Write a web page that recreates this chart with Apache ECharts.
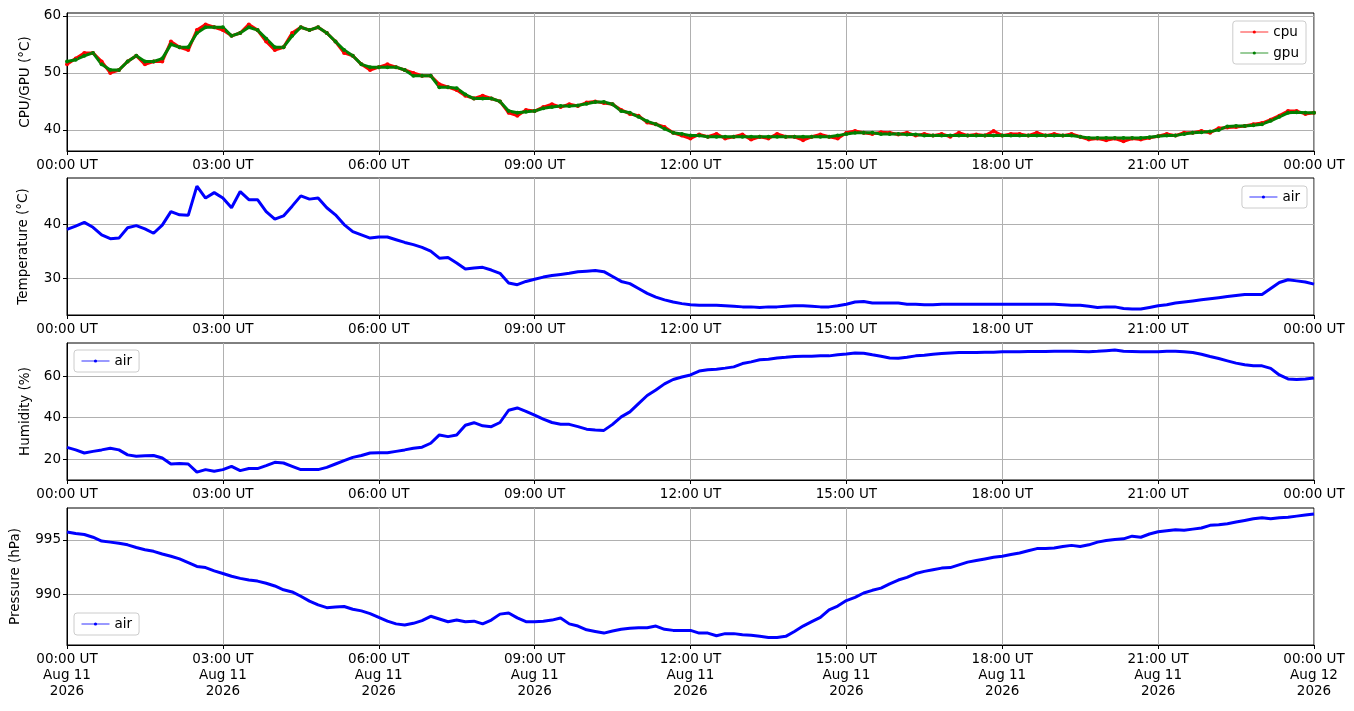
<!DOCTYPE html>
<html lang="en">
<head>
<meta charset="UTF-8">
<title>Sensor log</title>
<script src="https://cdn.jsdelivr.net/npm/echarts@6/dist/echarts.min.js"></script>
<style>
  * {margin: 0; padding: 0;}
  body {background: #fff;}
  #main {width: 1354px; height: 711px;}
</style>
</head>
<body>
<div id="main"></div>
<script>
// one reading every 10 minutes, 00:00 UT Aug 11 -> 00:00 UT Aug 12
const stepMinutes = 10;

const cpu = [51.5, 52.5, 53.5, 53.5, 52, 50, 50.5, 52, 53, 51.5,
  52, 52, 55.5, 54.5, 54, 57.5, 58.5, 58, 57.5, 56.5,
  57, 58.5, 57.5, 55.5, 54, 54.5, 57, 58, 57.5, 58,
  57, 55.5, 53.5, 53, 51.5, 50.5, 51, 51.5, 51, 50.5,
  50, 49.5, 49.5, 48, 47.5, 47, 46, 45.5, 46, 45.5,
  45, 43, 42.5, 43.5, 43.3, 44, 44.5, 44, 44.5, 44.2,
  44.8, 45, 44.7, 44.5, 43.5, 42.8, 42.5, 41.3, 41, 40.5,
  39.5, 39, 38.5, 39.2, 38.8, 39.3, 38.5, 38.8, 39.2, 38.3,
  38.8, 38.5, 39.3, 38.8, 38.8, 38.2, 38.8, 39.2, 38.8, 38.5,
  39.5, 39.8, 39.5, 39.3, 39.6, 39.5, 39.2, 39.5, 39, 39.3,
  39, 39.3, 38.8, 39.5, 39, 39.2, 39, 39.8, 39, 39.3,
  39.3, 39, 39.5, 39, 39.3, 39, 39.3, 38.8, 38.3, 38.5,
  38.2, 38.5, 38, 38.5, 38.3, 38.6, 38.9, 39.3, 39, 39.5,
  39.5, 39.8, 39.5, 40.3, 40.4, 40.5, 40.7, 41, 41.2, 41.8,
  42.5, 43.3, 43.3, 42.8, 43];

const gpu = [52, 52.3, 53, 53.5, 51.5, 50.5, 50.5, 52, 53, 52,
  52, 52.5, 55, 54.5, 54.5, 57, 58, 58, 58, 56.5,
  57, 58, 57.5, 56, 54.5, 54.5, 56.5, 58, 57.5, 58,
  57, 55.5, 54, 53, 51.5, 51, 51, 51, 51, 50.5,
  49.5, 49.5, 49.5, 47.5, 47.5, 47.3, 46.2, 45.5, 45.5, 45.5,
  45, 43.3, 43, 43.2, 43.3, 43.8, 44, 44.2, 44.2, 44.3,
  44.6, 44.9, 44.9, 44.5, 43.3, 43, 42.3, 41.5, 41, 40.2,
  39.5, 39.3, 39, 39, 38.8, 38.8, 38.8, 38.8, 38.8, 38.8,
  38.8, 38.8, 38.8, 38.8, 38.8, 38.8, 38.8, 38.8, 38.8, 39,
  39.3, 39.5, 39.5, 39.5, 39.3, 39.3, 39.3, 39.2, 39.2, 39,
  39, 39, 39, 39, 39, 39, 39, 39, 39, 39,
  39, 39, 39, 39, 39, 39, 39, 38.8, 38.6, 38.6,
  38.6, 38.6, 38.6, 38.6, 38.6, 38.7, 38.9, 39, 39, 39.3,
  39.5, 39.6, 39.7, 40, 40.6, 40.7, 40.7, 40.8, 41, 41.6,
  42.3, 43, 43.1, 43, 43];

const airTemp = [39, 39.6, 40.3, 39.4, 38, 37.3, 37.4, 39.3, 39.7, 39.1,
  38.3, 39.8, 42.3, 41.7, 41.6, 47, 44.8, 45.8, 44.8, 43,
  46, 44.5, 44.5, 42.3, 40.9, 41.5, 43.3, 45.2, 44.6, 44.8,
  43, 41.7, 39.9, 38.6, 38, 37.4, 37.6, 37.6, 37.1, 36.6,
  36.2, 35.7, 35, 33.7, 33.8, 32.8, 31.7, 31.9, 32, 31.5,
  30.9, 29.1, 28.8, 29.4, 29.8, 30.2, 30.5, 30.7, 30.9, 31.2,
  31.3, 31.4, 31.2, 30.3, 29.4, 29, 28.1, 27.2, 26.5, 26,
  25.6, 25.3, 25.1, 25, 25, 25, 24.9, 24.8, 24.7, 24.7,
  24.6, 24.7, 24.7, 24.8, 24.9, 24.9, 24.8, 24.7, 24.7, 24.9,
  25.2, 25.6, 25.7, 25.4, 25.4, 25.4, 25.4, 25.2, 25.2, 25.1,
  25.1, 25.2, 25.2, 25.2, 25.2, 25.2, 25.2, 25.2, 25.2, 25.2,
  25.2, 25.2, 25.2, 25.2, 25.2, 25.1, 25, 25, 24.8, 24.6,
  24.7, 24.7, 24.4, 24.3, 24.3, 24.6, 24.9, 25.1, 25.4, 25.6,
  25.8, 26, 26.2, 26.4, 26.6, 26.8, 27, 27, 27, 28.1,
  29.2, 29.7, 29.5, 29.3, 28.9];

const humidity = [25.6, 24.4, 22.9, 23.7, 24.4, 25.2, 24.4, 22, 21.3, 21.6,
  21.7, 20.5, 17.6, 17.8, 17.6, 13.7, 14.9, 14.1, 14.9, 16.5,
  14.4, 15.4, 15.4, 16.8, 18.4, 18.1, 16.5, 14.9, 14.9, 14.9,
  16, 17.6, 19.2, 20.8, 21.7, 22.9, 23, 23, 23.7, 24.4,
  25.2, 25.7, 27.6, 31.6, 30.8, 31.6, 36.3, 37.5, 36, 35.6,
  37.6, 43.5, 44.6, 43, 41.1, 39.2, 37.6, 36.8, 36.7, 35.6,
  34.4, 34, 33.8, 36.7, 40.3, 42.7, 46.7, 50.6, 53.3, 56.2,
  58.3, 59.5, 60.5, 62.4, 63, 63.3, 63.8, 64.4, 66, 66.8,
  67.8, 68.1, 68.7, 69, 69.4, 69.5, 69.5, 69.7, 69.7, 70.2,
  70.6, 71.1, 71, 70.2, 69.5, 68.7, 68.6, 69, 69.7, 70,
  70.5, 70.8, 71.1, 71.3, 71.3, 71.3, 71.4, 71.4, 71.7, 71.7,
  71.7, 71.8, 71.8, 71.8, 71.9, 71.9, 71.9, 71.8, 71.7, 71.9,
  72.2, 72.5, 71.9, 71.8, 71.7, 71.7, 71.7, 71.9, 71.9, 71.7,
  71.3, 70.5, 69.4, 68.4, 67.3, 66.2, 65.4, 64.9, 64.9, 63.7,
  60.5, 58.6, 58.3, 58.6, 59];

const pressure = [995.74, 995.6, 995.5, 995.25, 994.9, 994.8, 994.7, 994.55, 994.3, 994.1,
  993.95, 993.7, 993.5, 993.25, 992.9, 992.55, 992.45, 992.15, 991.9, 991.65,
  991.45, 991.3, 991.2, 991, 990.75, 990.4, 990.2, 989.8, 989.35, 989,
  988.75, 988.8, 988.85, 988.6, 988.45, 988.2, 987.85, 987.5, 987.25, 987.15,
  987.3, 987.55, 987.95, 987.7, 987.45, 987.6, 987.45, 987.5, 987.25, 987.6,
  988.15, 988.25, 987.8, 987.45, 987.45, 987.5, 987.6, 987.8, 987.25, 987.05,
  986.7, 986.55, 986.4, 986.6, 986.75, 986.85, 986.9, 986.9, 987.05, 986.75,
  986.65, 986.65, 986.65, 986.4, 986.4, 986.15, 986.35, 986.35, 986.25, 986.2,
  986.1, 986, 986, 986.1, 986.55, 987.05, 987.45, 987.85, 988.55, 988.9,
  989.4, 989.7, 990.1, 990.35, 990.55, 990.95, 991.3, 991.55, 991.9, 992.1,
  992.25, 992.4, 992.45, 992.7, 992.95, 993.1, 993.25, 993.4, 993.5, 993.65,
  993.8, 994, 994.2, 994.2, 994.25, 994.4, 994.5, 994.4, 994.55, 994.8,
  994.95, 995.05, 995.1, 995.35, 995.25, 995.55, 995.75, 995.85, 995.95, 995.9,
  996, 996.1, 996.35, 996.4, 996.5, 996.65, 996.8, 996.95, 997.05, 996.95,
  997.05, 997.1, 997.2, 997.3, 997.4];

const hourLabels = ['00:00 UT', '03:00 UT', '06:00 UT', '09:00 UT', '12:00 UT',
  '15:00 UT', '18:00 UT', '21:00 UT', '00:00 UT'];
const dateLabels = ['Aug 11', 'Aug 11', 'Aug 11', 'Aug 11', 'Aug 11',
  'Aug 11', 'Aug 11', 'Aug 11', 'Aug 12'];
const yearLabel = '2026';

const cpuTicks = [40, 50, 60];
const tempTicks = [30, 40];
const humTicks = [20, 40, 60];
const presTicks = [990, 995];

const font = 'DejaVu Sans';
const fs = 13.5;
const hours = gpu.map((_, i) => i * stepMinutes / 60);
const pairs = arr => arr.map((v, i) => [hours[i], v]);

const grids = [
  {top: 13, height: 138},
  {top: 178, height: 137},
  {top: 343, height: 137},
  {top: 508, height: 137}
].map(g => Object.assign({left: 67, width: 1247, show: true,
  borderColor: '#000', borderWidth: 1, backgroundColor: '#fff'}, g));

function xAxis(i, full) {
  return {
    type: 'value', gridIndex: i, min: 0, max: 24, interval: 3,
    axisLine: {show: true, lineStyle: {color: '#000', width: 1}},
    axisTick: {show: true, length: 4, lineStyle: {color: '#000'}},
    splitLine: {show: true, lineStyle: {color: '#b0b0b0', width: 1}},
    axisLabel: {
      color: '#000', fontFamily: font, fontSize: fs, margin: 6,
      lineHeight: 16, showMinLabel: true, showMaxLabel: true,
      formatter: v => {
        const k = Math.round(v / 3);
        return full ? hourLabels[k] + '\n' + dateLabels[k] + '\n' + yearLabel : hourLabels[k];
      }
    }
  };
}

function yAxis(i, name, min, max, ticks, gap) {
  return {
    type: 'value', gridIndex: i, min: min, max: max,
    minInterval: ticks[1] - ticks[0], maxInterval: ticks[1] - ticks[0],
    name: name, nameLocation: 'middle', nameGap: gap,
    nameTextStyle: {color: '#000', fontFamily: font, fontSize: fs},
    axisLine: {show: true, lineStyle: {color: '#000', width: 1}},
    axisTick: {show: true, length: 4, lineStyle: {color: '#000'}, customValues: ticks},
    splitLine: {show: true, lineStyle: {color: '#b0b0b0', width: 1}},
    axisLabel: {color: '#000', fontFamily: font, fontSize: fs, margin: 6,
      customValues: ticks}
  };
}

const legendBase = {
  backgroundColor: 'rgba(255,255,255,0.8)', borderColor: '#cccccc', borderWidth: 1,
  borderRadius: 3, padding: [4, 7], itemWidth: 28, itemHeight: 4, itemGap: 7,
  orient: 'vertical', selectedMode: false,
  textStyle: {color: '#000', fontFamily: font, fontSize: fs},
  lineStyle: {width: 1, opacity: 0.8}
};

function lineSeries(name, i, data, color, width, dots) {
  return {
    name: name, type: 'line', xAxisIndex: i, yAxisIndex: i, data: pairs(data),
    color: color, symbol: 'circle', symbolSize: 4, showSymbol: dots,
    lineStyle: {width: width, color: color}, itemStyle: {color: color},
    emphasis: {disabled: true}
  };
}

const chart = echarts.init(document.getElementById('main'));
chart.setOption({
  animation: false,
  backgroundColor: '#fff',
  grid: grids,
  xAxis: [xAxis(0, false), xAxis(1, false), xAxis(2, false), xAxis(3, true)],
  yAxis: [
    yAxis(0, 'CPU/GPU (°C)', 36.3, 60.5, cpuTicks, 35),
    yAxis(1, 'Temperature (°C)', 23.2, 48.5, tempTicks, 37),
    yAxis(2, 'Humidity (%)', 9.9, 75.9, humTicks, 35),
    yAxis(3, 'Pressure (hPa)', 985.3, 997.95, presTicks, 45)
  ],
  legend: [
    Object.assign({}, legendBase, {data: ['cpu', 'gpu'], right: 48, top: 21}),
    Object.assign({}, legendBase, {data: ['air'], right: 47, top: 186}),
    Object.assign({}, legendBase, {data: ['air'], left: 74, top: 350}),
    Object.assign({}, legendBase, {data: ['air'], left: 74, top: 613})
  ],
  series: [
    lineSeries('cpu', 0, cpu, '#ff0000', 3, true),
    lineSeries('gpu', 0, gpu, '#008000', 3, true),
    lineSeries('air', 1, airTemp, '#0000ff', 3, false),
    lineSeries('air', 2, humidity, '#0000ff', 3, false),
    lineSeries('air', 3, pressure, '#0000ff', 3, false)
  ]
});
</script>
</body>
</html>
